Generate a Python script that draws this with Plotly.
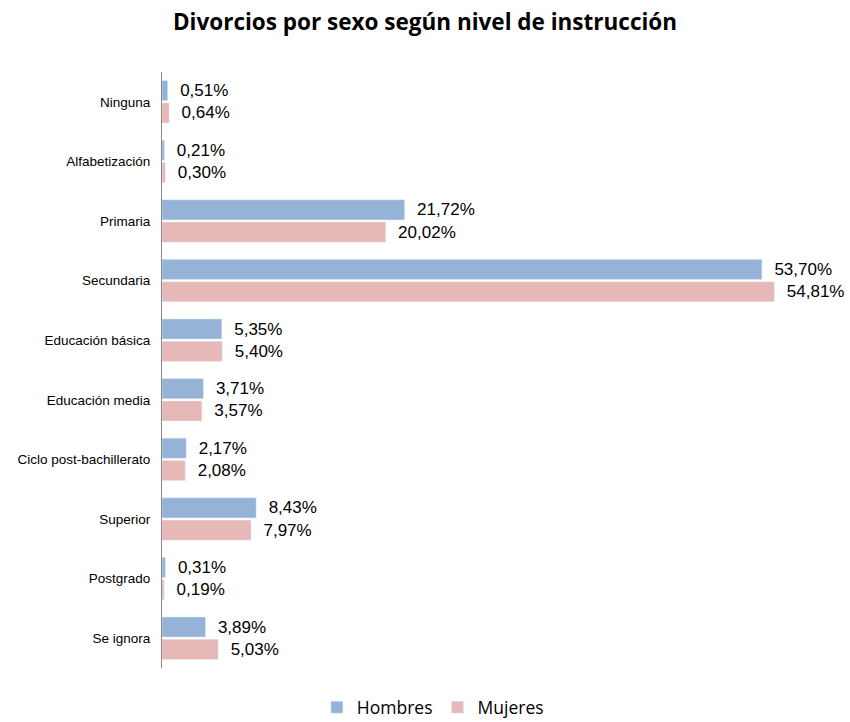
import plotly.graph_objects as go

categories = ["Ninguna", "Alfabetización", "Primaria", "Secundaria", "Educación básica",
              "Educación media", "Ciclo post-bachillerato", "Superior", "Postgrado", "Se ignora"]
hombres = [0.51, 0.21, 21.72, 53.70, 5.35, 3.71, 2.17, 8.43, 0.31, 3.89]
mujeres = [0.64, 0.30, 20.02, 54.81, 5.40, 3.57, 2.08, 7.97, 0.19, 5.03]

def fmt(v):
    return "  " + f"{v:.2f}".replace(".", ",") + "%"

label_font = dict(family="Liberation Sans, Arial", size=17, color="#000")

fig = go.Figure()
fig.add_trace(go.Bar(y=categories, x=hombres, orientation="h", name="Hombres",
                     marker_color="#95B3D7", text=[fmt(v) for v in hombres],
                     textposition="outside", cliponaxis=False, textfont=label_font))
fig.add_trace(go.Bar(y=categories, x=mujeres, orientation="h", name="Mujeres",
                     marker_color="#E6B9B8", text=[fmt(v) for v in mujeres],
                     textposition="outside", cliponaxis=False, textfont=label_font))

fig.update_layout(
    width=850, height=722,
    paper_bgcolor="white", plot_bgcolor="white",
    margin=dict(l=162, r=40, t=72, b=54, autoexpand=False),
    barmode="group", bargap=0.25, bargroupgap=0.1,
    title=dict(text="<b>Divorcios por sexo según nivel de instrucción</b>",
               x=0.5, xanchor="center", y=0.97, yanchor="middle",
               font=dict(family="Open Sans, Liberation Sans", size=22.5, color="#000")),
    showlegend=True,
    legend=dict(orientation="h", x=0.418, xanchor="center", y=-0.066, yanchor="middle",
                font=dict(family="Open Sans, Liberation Sans", size=17.5, color="#000"),
                itemwidth=30, traceorder="normal"),
    xaxis=dict(range=[0, 58], visible=False, showgrid=False, zeroline=False),
    yaxis=dict(autorange="reversed", showline=True, linecolor="#888", linewidth=1,
               ticks="", showgrid=False, automargin=False,
               tickfont=dict(family="Liberation Sans, Arial", size=13.5, color="#000"),
               ticklabelstandoff=8),
)

fig.write_html("out.html", config={"displayModeBar": False},
               post_script="document.body.style.margin='0';")
